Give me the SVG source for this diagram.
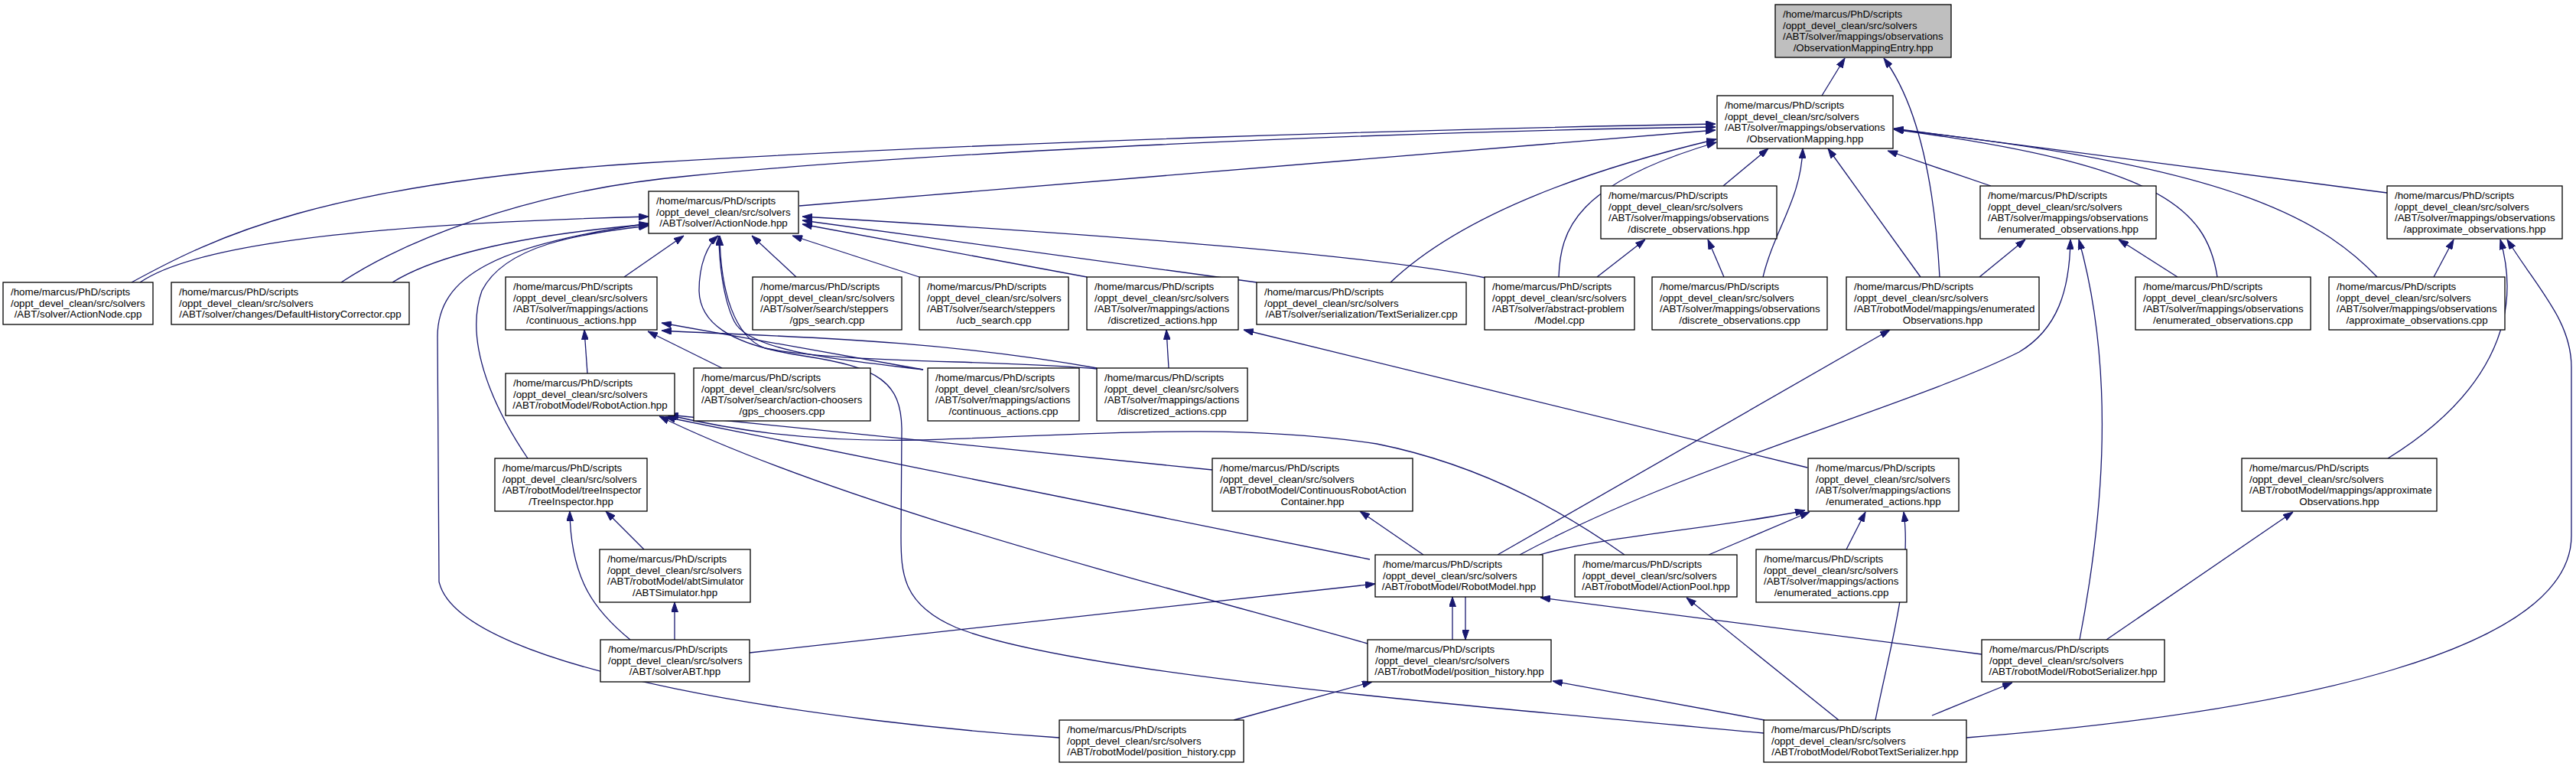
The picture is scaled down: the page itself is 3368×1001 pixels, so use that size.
<svg xmlns="http://www.w3.org/2000/svg" width="3368" height="1001" viewBox="0 0 3368 1001">
<style>
rect{fill:#fff;stroke:#000;stroke-width:1.3}
#n0 rect{fill:#bfbfbf}
text{font-family:"Liberation Sans",Arial,sans-serif;font-size:13.33px;fill:#000}
.c{text-anchor:middle}
#edges path{fill:none;stroke:#191970;stroke-width:1.3;marker-end:url(#ah)}
</style>
<defs>
<marker id="ah" viewBox="0 0 13 9" refX="13" refY="4.5" markerWidth="13" markerHeight="9" markerUnits="userSpaceOnUse" orient="auto"><path d="M0,0 L13,4.5 L0,9 z" fill="#191970" stroke="#191970"/></marker>
</defs>
<rect x="0" y="0" width="3368" height="1001" style="fill:#fff;stroke:none"/>
<g id="edges">
<path d="M2382,125 L2412,76"/>
<path d="M2536,362 C2530,250 2510,140 2463,76"/>
<path d="M2253,243 L2312,194"/>
<path d="M2305,362 C2320,300 2355,260 2357,194"/>
<path d="M2511,362 L2390,194"/>
<path d="M2603,243 L2468,197"/>
<path d="M3121,252 L2476,168"/>
<path d="M2899,362 C2885,270 2820,215 2476,169"/>
<path d="M3108,362 C3030,280 2900,215 2476,169"/>
<path d="M1045,269 L2243,170"/>
<path d="M172,369 C280,310 420,240 842,213 C1300,185 1900,168 2243,162"/>
<path d="M446,369 C520,320 680,250 900,230 C1200,200 1800,172 2243,166"/>
<path d="M1818,369 C1880,310 2000,240 2244,182"/>
<path d="M2038,362 C2040,300 2060,240 2244,186"/>
<path d="M2088,362 L2151,313"/>
<path d="M2254,362 L2233,313"/>
<path d="M2588,362 L2648,313"/>
<path d="M2847,362 L2770,313"/>
<path d="M1987,725 C2200,610 2500,530 2640,460 C2690,430 2706,380 2707,313"/>
<path d="M2719,836 C2745,700 2770,500 2718,313"/>
<path d="M1958,725 L2471,431"/>
<path d="M3182,362 L3208,313"/>
<path d="M3122,599 C3250,520 3300,420 3269,313"/>
<path d="M2571,964 C3000,930 3362,850 3362,700 L3362,480 C3362,420 3320,380 3278,313"/>
<path d="M183,369 C240,330 400,295 848,283"/>
<path d="M513,369 C560,340 650,310 848,293"/>
<path d="M690,599 C650,540 605,450 630,380 C660,320 760,305 848,295"/>
<path d="M1385,964 C1100,945 600,880 574,760 L572,440 C572,360 650,320 848,292"/>
<path d="M816,362 L894,308"/>
<path d="M1041,362 L983,308"/>
<path d="M1202,362 L1036,308"/>
<path d="M1421,362 L1049,293"/>
<path d="M1643,369 L1049,288"/>
<path d="M1942,363 C1800,335 1500,310 1049,283"/>
<path d="M2306,958 C1900,920 1400,880 1250,820 C1180,790 1178,750 1178,700 L1179,560 C1178,500 1150,480 1050,465 C950,450 915,420 914,380 C914,345 925,320 939,308"/>
<path d="M1207,483 C1100,470 980,460 960,420 C945,390 940,340 940,308"/>
<path d="M1434,482 C1300,470 1100,475 1000,455 C960,440 942,380 941,308"/>
<path d="M1207,483 L865,422"/>
<path d="M1434,481 C1200,440 1000,440 865,432"/>
<path d="M944,481 L847,433"/>
<path d="M768,488 L764,431"/>
<path d="M1528,481 L1525,431"/>
<path d="M2363,611 L1626,431"/>
<path d="M1585,614 L874,542"/>
<path d="M1791,731 L870,545"/>
<path d="M1788,841 C1500,760 1100,660 862,544"/>
<path d="M2124,725 C2060,680 1950,610 1800,580 C1600,550 1400,570 1200,575 C1050,578 950,560 872,542"/>
<path d="M824,836 C780,800 746,760 745,668"/>
<path d="M842,718 L792,668"/>
<path d="M882,836 L882,787"/>
<path d="M980,853 L1798,763"/>
<path d="M1613,941 L1794,891"/>
<path d="M1899,836 L1899,780"/>
<path d="M1916,780 L1916,836"/>
<path d="M2307,941 L2030,890"/>
<path d="M1861,725 L1778,668"/>
<path d="M2013,725 C2100,700 2250,690 2360,667"/>
<path d="M2591,855 L2014,781"/>
<path d="M2234,725 L2366,669"/>
<path d="M2404,941 L2205,781"/>
<path d="M2414,718 L2439,669"/>
<path d="M2452,941 C2470,850 2500,750 2489,669"/>
<path d="M2526,935 L2631,892"/>
<path d="M2754,836 L2998,669"/>
</g>
<g id="n0"><rect x="2321" y="6" width="230" height="69"/><text x="2331" y="23">/home/marcus/PhD/scripts</text><text x="2331" y="37.7">/oppt_devel_clean/src/solvers</text><text x="2331" y="52.3">/ABT/solver/mappings/observations</text><text class="c" x="2436" y="67">/ObservationMappingEntry.hpp</text></g>
<g id="n1"><rect x="2245" y="125" width="230" height="69"/><text x="2255" y="142">/home/marcus/PhD/scripts</text><text x="2255" y="156.7">/oppt_devel_clean/src/solvers</text><text x="2255" y="171.3">/ABT/solver/mappings/observations</text><text class="c" x="2360" y="186">/ObservationMapping.hpp</text></g>
<g id="n2"><rect x="848" y="250" width="196" height="55"/><text x="858" y="267">/home/marcus/PhD/scripts</text><text x="858" y="281.7">/oppt_devel_clean/src/solvers</text><text class="c" x="946" y="296.3">/ABT/solver/ActionNode.hpp</text></g>
<g id="n3"><rect x="2093" y="243" width="230" height="69"/><text x="2103" y="260">/home/marcus/PhD/scripts</text><text x="2103" y="274.7">/oppt_devel_clean/src/solvers</text><text x="2103" y="289.3">/ABT/solver/mappings/observations</text><text class="c" x="2208" y="304">/discrete_observations.hpp</text></g>
<g id="n4"><rect x="2589" y="243" width="230" height="69"/><text x="2599" y="260">/home/marcus/PhD/scripts</text><text x="2599" y="274.7">/oppt_devel_clean/src/solvers</text><text x="2599" y="289.3">/ABT/solver/mappings/observations</text><text class="c" x="2704" y="304">/enumerated_observations.hpp</text></g>
<g id="n5"><rect x="3121" y="243" width="229" height="69"/><text x="3131" y="260">/home/marcus/PhD/scripts</text><text x="3131" y="274.7">/oppt_devel_clean/src/solvers</text><text x="3131" y="289.3">/ABT/solver/mappings/observations</text><text class="c" x="3235.5" y="304">/approximate_observations.hpp</text></g>
<g id="n6"><rect x="4" y="369" width="196" height="55"/><text x="14" y="386">/home/marcus/PhD/scripts</text><text x="14" y="400.7">/oppt_devel_clean/src/solvers</text><text class="c" x="102" y="415.3">/ABT/solver/ActionNode.cpp</text></g>
<g id="n7"><rect x="224" y="369" width="311" height="55"/><text x="234" y="386">/home/marcus/PhD/scripts</text><text x="234" y="400.7">/oppt_devel_clean/src/solvers</text><text class="c" x="379.5" y="415.3">/ABT/solver/changes/DefaultHistoryCorrector.cpp</text></g>
<g id="n8"><rect x="661" y="362" width="198" height="69"/><text x="671" y="379">/home/marcus/PhD/scripts</text><text x="671" y="393.7">/oppt_devel_clean/src/solvers</text><text x="671" y="408.3">/ABT/solver/mappings/actions</text><text class="c" x="760" y="423">/continuous_actions.hpp</text></g>
<g id="n9"><rect x="984" y="362" width="195" height="69"/><text x="994" y="379">/home/marcus/PhD/scripts</text><text x="994" y="393.7">/oppt_devel_clean/src/solvers</text><text x="994" y="408.3">/ABT/solver/search/steppers</text><text class="c" x="1081.5" y="423">/gps_search.cpp</text></g>
<g id="n10"><rect x="1202" y="362" width="195" height="69"/><text x="1212" y="379">/home/marcus/PhD/scripts</text><text x="1212" y="393.7">/oppt_devel_clean/src/solvers</text><text x="1212" y="408.3">/ABT/solver/search/steppers</text><text class="c" x="1299.5" y="423">/ucb_search.cpp</text></g>
<g id="n11"><rect x="1421" y="362" width="198" height="69"/><text x="1431" y="379">/home/marcus/PhD/scripts</text><text x="1431" y="393.7">/oppt_devel_clean/src/solvers</text><text x="1431" y="408.3">/ABT/solver/mappings/actions</text><text class="c" x="1520" y="423">/discretized_actions.hpp</text></g>
<g id="n12"><rect x="1643" y="369" width="274" height="55"/><text x="1653" y="386">/home/marcus/PhD/scripts</text><text x="1653" y="400.7">/oppt_devel_clean/src/solvers</text><text class="c" x="1780" y="415.3">/ABT/solver/serialization/TextSerializer.cpp</text></g>
<g id="n13"><rect x="1941" y="362" width="196" height="69"/><text x="1951" y="379">/home/marcus/PhD/scripts</text><text x="1951" y="393.7">/oppt_devel_clean/src/solvers</text><text x="1951" y="408.3">/ABT/solver/abstract-problem</text><text class="c" x="2039" y="423">/Model.cpp</text></g>
<g id="n14"><rect x="2160" y="362" width="229" height="69"/><text x="2170" y="379">/home/marcus/PhD/scripts</text><text x="2170" y="393.7">/oppt_devel_clean/src/solvers</text><text x="2170" y="408.3">/ABT/solver/mappings/observations</text><text class="c" x="2274.5" y="423">/discrete_observations.cpp</text></g>
<g id="n15"><rect x="2414" y="362" width="252" height="69"/><text x="2424" y="379">/home/marcus/PhD/scripts</text><text x="2424" y="393.7">/oppt_devel_clean/src/solvers</text><text x="2424" y="408.3">/ABT/robotModel/mappings/enumerated</text><text class="c" x="2540" y="423">Observations.hpp</text></g>
<g id="n16"><rect x="2792" y="362" width="229" height="69"/><text x="2802" y="379">/home/marcus/PhD/scripts</text><text x="2802" y="393.7">/oppt_devel_clean/src/solvers</text><text x="2802" y="408.3">/ABT/solver/mappings/observations</text><text class="c" x="2906.5" y="423">/enumerated_observations.cpp</text></g>
<g id="n17"><rect x="3045" y="362" width="230" height="69"/><text x="3055" y="379">/home/marcus/PhD/scripts</text><text x="3055" y="393.7">/oppt_devel_clean/src/solvers</text><text x="3055" y="408.3">/ABT/solver/mappings/observations</text><text class="c" x="3160" y="423">/approximate_observations.cpp</text></g>
<g id="n18"><rect x="661" y="488" width="221" height="55"/><text x="671" y="505">/home/marcus/PhD/scripts</text><text x="671" y="519.7">/oppt_devel_clean/src/solvers</text><text class="c" x="771.5" y="534.3">/ABT/robotModel/RobotAction.hpp</text></g>
<g id="n19"><rect x="907" y="481" width="231" height="69"/><text x="917" y="498">/home/marcus/PhD/scripts</text><text x="917" y="512.7">/oppt_devel_clean/src/solvers</text><text x="917" y="527.3">/ABT/solver/search/action-choosers</text><text class="c" x="1022.5" y="542">/gps_choosers.cpp</text></g>
<g id="n20"><rect x="1213" y="481" width="198" height="69"/><text x="1223" y="498">/home/marcus/PhD/scripts</text><text x="1223" y="512.7">/oppt_devel_clean/src/solvers</text><text x="1223" y="527.3">/ABT/solver/mappings/actions</text><text class="c" x="1312" y="542">/continuous_actions.cpp</text></g>
<g id="n21"><rect x="1434" y="481" width="197" height="69"/><text x="1444" y="498">/home/marcus/PhD/scripts</text><text x="1444" y="512.7">/oppt_devel_clean/src/solvers</text><text x="1444" y="527.3">/ABT/solver/mappings/actions</text><text class="c" x="1532.5" y="542">/discretized_actions.cpp</text></g>
<g id="n22"><rect x="647" y="599" width="199" height="69"/><text x="657" y="616">/home/marcus/PhD/scripts</text><text x="657" y="630.7">/oppt_devel_clean/src/solvers</text><text x="657" y="645.3">/ABT/robotModel/treeInspector</text><text class="c" x="746.5" y="660">/TreeInspector.hpp</text></g>
<g id="n23"><rect x="1585" y="599" width="262" height="69"/><text x="1595" y="616">/home/marcus/PhD/scripts</text><text x="1595" y="630.7">/oppt_devel_clean/src/solvers</text><text x="1595" y="645.3">/ABT/robotModel/ContinuousRobotAction</text><text class="c" x="1716" y="660">Container.hpp</text></g>
<g id="n24"><rect x="2364" y="599" width="197" height="69"/><text x="2374" y="616">/home/marcus/PhD/scripts</text><text x="2374" y="630.7">/oppt_devel_clean/src/solvers</text><text x="2374" y="645.3">/ABT/solver/mappings/actions</text><text class="c" x="2462.5" y="660">/enumerated_actions.hpp</text></g>
<g id="n25"><rect x="2931" y="599" width="255" height="69"/><text x="2941" y="616">/home/marcus/PhD/scripts</text><text x="2941" y="630.7">/oppt_devel_clean/src/solvers</text><text x="2941" y="645.3">/ABT/robotModel/mappings/approximate</text><text class="c" x="3058.5" y="660">Observations.hpp</text></g>
<g id="n26"><rect x="784" y="718" width="197" height="69"/><text x="794" y="735">/home/marcus/PhD/scripts</text><text x="794" y="749.7">/oppt_devel_clean/src/solvers</text><text x="794" y="764.3">/ABT/robotModel/abtSimulator</text><text class="c" x="882.5" y="779">/ABTSimulator.hpp</text></g>
<g id="n27"><rect x="1798" y="725" width="219" height="55"/><text x="1808" y="742">/home/marcus/PhD/scripts</text><text x="1808" y="756.7">/oppt_devel_clean/src/solvers</text><text class="c" x="1907.5" y="771.3">/ABT/robotModel/RobotModel.hpp</text></g>
<g id="n28"><rect x="2059" y="725" width="212" height="55"/><text x="2069" y="742">/home/marcus/PhD/scripts</text><text x="2069" y="756.7">/oppt_devel_clean/src/solvers</text><text class="c" x="2165" y="771.3">/ABT/robotModel/ActionPool.hpp</text></g>
<g id="n29"><rect x="2296" y="718" width="197" height="69"/><text x="2306" y="735">/home/marcus/PhD/scripts</text><text x="2306" y="749.7">/oppt_devel_clean/src/solvers</text><text x="2306" y="764.3">/ABT/solver/mappings/actions</text><text class="c" x="2394.5" y="779">/enumerated_actions.cpp</text></g>
<g id="n30"><rect x="785" y="836" width="195" height="55"/><text x="795" y="853">/home/marcus/PhD/scripts</text><text x="795" y="867.7">/oppt_devel_clean/src/solvers</text><text class="c" x="882.5" y="882.3">/ABT/solverABT.hpp</text></g>
<g id="n31"><rect x="1788" y="836" width="240" height="55"/><text x="1798" y="853">/home/marcus/PhD/scripts</text><text x="1798" y="867.7">/oppt_devel_clean/src/solvers</text><text class="c" x="1908" y="882.3">/ABT/robotModel/position_history.hpp</text></g>
<g id="n32"><rect x="2591" y="836" width="239" height="55"/><text x="2601" y="853">/home/marcus/PhD/scripts</text><text x="2601" y="867.7">/oppt_devel_clean/src/solvers</text><text class="c" x="2710.5" y="882.3">/ABT/robotModel/RobotSerializer.hpp</text></g>
<g id="n33"><rect x="1385" y="941" width="241" height="55"/><text x="1395" y="958">/home/marcus/PhD/scripts</text><text x="1395" y="972.7">/oppt_devel_clean/src/solvers</text><text class="c" x="1505.5" y="987.3">/ABT/robotModel/position_history.cpp</text></g>
<g id="n34"><rect x="2306" y="941" width="265" height="55"/><text x="2316" y="958">/home/marcus/PhD/scripts</text><text x="2316" y="972.7">/oppt_devel_clean/src/solvers</text><text class="c" x="2438.5" y="987.3">/ABT/robotModel/RobotTextSerializer.hpp</text></g>
</svg>
